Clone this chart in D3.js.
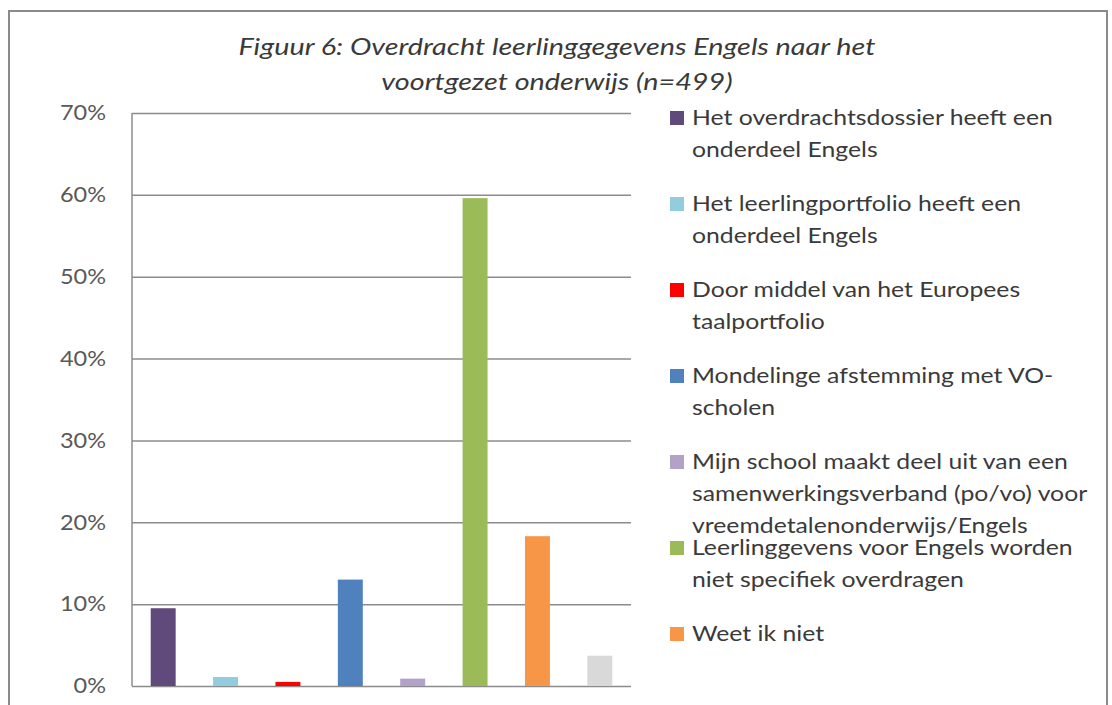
<!DOCTYPE html>
<html>
<head>
<meta charset="utf-8">
<script src="https://cdn.jsdelivr.net/npm/d3@7"></script>
<style>
  html, body { margin: 0; padding: 0; background: #fff; overflow: hidden; }
  svg { display: block; }
</style>
</head>
<body>
<div id="chart"></div>
<script>
// data (percent of n=499)
const values = [9.5, 1.1, 0.5, 13.0, 0.9, 59.6, 18.3, 3.7];
const colors = ["#604a7b", "#93cddd", "#ff0000", "#4f81bd", "#b3a2c7", "#9bbb59", "#f79646", "#d9d9d9"];
const yTicks = [0, 10, 20, 30, 40, 50, 60, 70];
const titleLines = [
  "Figuur 6: Overdracht leerlinggegevens Engels naar het",
  "voortgezet onderwijs (n=499)"
];
// legend labels, broken as in the picture (the 8th entry falls below the frame)
const legendLabels = [
  ["Het overdrachtsdossier heeft een", "onderdeel Engels"],
  ["Het leerlingportfolio heeft een", "onderdeel Engels"],
  ["Door middel van het Europees", "taalportfolio"],
  ["Mondelinge afstemming met VO-", "scholen"],
  ["Mijn school maakt deel uit van een", "samenwerkingsverband (po/vo) voor", "vreemdetalenonderwijs/Engels"],
  ["Leerlinggevens voor Engels worden", "niet specifiek overdragen"],
  ["Weet ik niet"]
];

const width = 1112, height = 705;
const plot = { left: 132, right: 631, top: 113, bottom: 686 };
const font = "Lato, 'Open Sans', sans-serif";

const svg = d3.select("#chart")
  .append("svg")
  .attr("width", width)
  .attr("height", height);

// outer frame
svg.append("rect")
  .attr("x", 9).attr("y", 11)
  .attr("width", 1098).attr("height", 720)
  .attr("fill", "#fff")
  .attr("stroke", "#8a8a8a")
  .attr("stroke-width", 2);

// title (the picture is a bit stretched sideways, hence the scale)
svg.append("g")
  .selectAll("text")
  .data(titleLines)
  .enter().append("text")
  .attr("transform", (d, i) => "translate(557," + (55 + i * 35) + ") scale(1.2,1)")
  .attr("text-anchor", "middle")
  .attr("font-family", font)
  .attr("font-style", "italic")
  .attr("font-size", 24)
  .attr("fill", "#3a3a3a")
  .text(d => d);

const x = d3.scaleBand()
  .domain(d3.range(values.length))
  .range([plot.left, plot.right])
  .paddingInner(0.6)
  .paddingOuter(0.3);

const y = d3.scaleLinear()
  .domain([0, 70])
  .range([plot.bottom, plot.top]);

// gridlines + y labels
const yAxis = svg.append("g")
  .attr("transform", "translate(" + plot.left + ",0)")
  .call(d3.axisLeft(y)
    .tickValues(yTicks)
    .tickSize(-(plot.right - plot.left))
    .tickFormat(d => d + "%"));
yAxis.select(".domain").remove();
yAxis.selectAll(".tick line")
  .attr("stroke", "#8c8c8c")
  .attr("stroke-width", 1.5);
yAxis.selectAll(".tick text")
  .attr("x", 0)
  .attr("transform", "translate(-26,0) scale(1.12,1)")
  .attr("font-family", font)
  .attr("font-size", 21)
  .attr("fill", "#595959");

// vertical axis line
svg.append("line")
  .attr("x1", plot.left).attr("x2", plot.left)
  .attr("y1", y(70)).attr("y2", y(0))
  .attr("stroke", "#8c8c8c")
  .attr("stroke-width", 1.5);

// bars
svg.selectAll(".bar")
  .data(values)
  .enter().append("rect")
  .attr("class", "bar")
  .attr("x", (d, i) => x(i))
  .attr("width", x.bandwidth())
  .attr("y", d => y(d))
  .attr("height", d => y(0) - y(d))
  .attr("fill", (d, i) => colors[i]);

// legend
const legend = svg.append("g")
  .selectAll("g")
  .data(legendLabels)
  .enter().append("g")
  .attr("transform", (d, i) => "translate(670," + (111 + i * 86) + ")");

legend.append("rect")
  .attr("width", 14).attr("height", 14)
  .attr("fill", (d, i) => colors[i]);

legend.selectAll("text")
  .data(d => d)
  .enter().append("text")
  .attr("transform", (d, i) => "translate(22," + (14 + i * 32) + ") scale(1.18,1)")
  .attr("font-family", font)
  .attr("font-size", 21)
  .attr("fill", "#3a3a3a")
  .text(d => d);
</script>
</body>
</html>
